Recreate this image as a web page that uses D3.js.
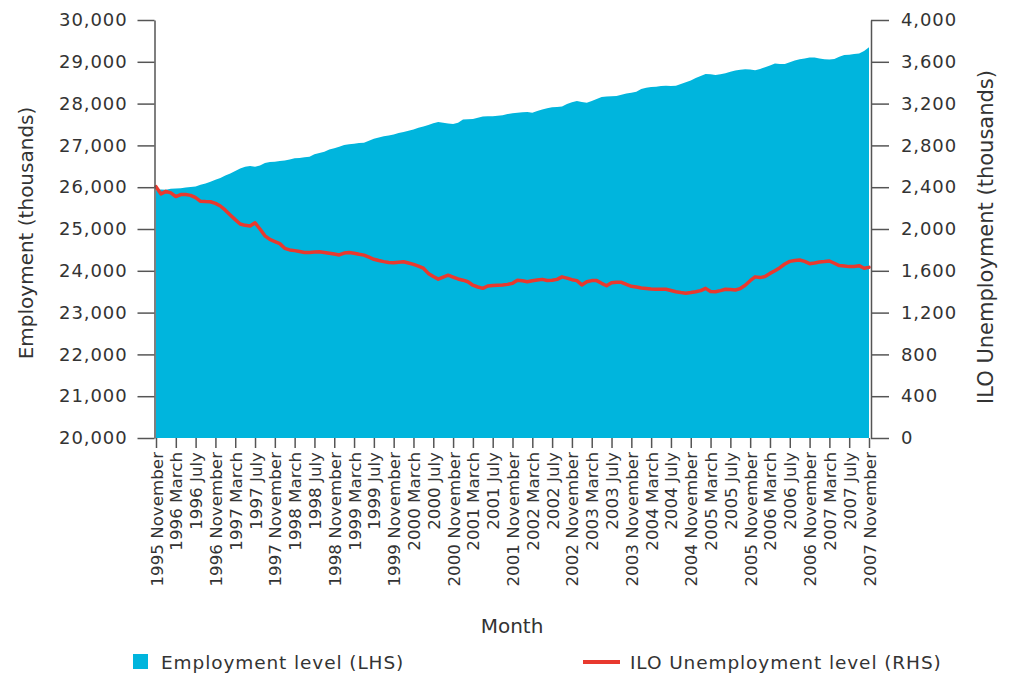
<!DOCTYPE html>
<html>
<head>
<meta charset="utf-8">
<script src="https://cdn.jsdelivr.net/npm/d3@7"></script>
<style>
  html, body { margin: 0; padding: 0; background: #fff; }
  svg { display: block; }
  text { font-family: "DejaVu Sans", sans-serif; fill: #333; }
</style>
</head>
<body>
<svg id="chart" width="1011" height="675"></svg>
<script>
// ---------- DATA ----------
const monthNames = ["January","February","March","April","May","June","July","August","September","October","November","December"];
const startYear = 1995;
const startMonthIndex = 10; // November
const nMonths = 145;
const categories = d3.range(nMonths).map(i => {
  const k = startMonthIndex + i;
  return (startYear + Math.floor(k / 12)) + " " + monthNames[k % 12];
});

// Employment level (LHS), thousands
const employment = [
  25930,25945,25940,25960,25970,25975,25990,26005,26015,26060,
  26090,26130,26180,26220,26280,26330,26390,26450,26490,26510,
  26490,26520,26580,26600,26610,26625,26640,26660,26690,26700,
  26715,26730,26790,26820,26850,26900,26930,26970,27010,27030,
  27040,27055,27065,27110,27160,27190,27220,27235,27260,27295,
  27320,27350,27380,27420,27450,27490,27530,27560,27540,27525,
  27510,27540,27620,27625,27630,27660,27690,27700,27700,27710,
  27720,27750,27770,27780,27795,27800,27780,27820,27860,27890,
  27910,27920,27930,27990,28030,28060,28040,28020,28060,28110,
  28160,28170,28175,28180,28210,28240,28260,28285,28350,28380,
  28400,28405,28420,28425,28420,28430,28470,28510,28550,28610,
  28660,28710,28700,28685,28700,28725,28760,28790,28810,28820,
  28815,28800,28830,28870,28910,28960,28950,28945,28990,29030,
  29060,29080,29100,29105,29080,29060,29055,29065,29120,29160,
  29170,29185,29200,29260,29350
];

// ILO Unemployment level (RHS), thousands
const unemployment = [
  2405,2335,2360,2345,2310,2330,2330,2322,2300,2265,
  2262,2261,2245,2220,2180,2134,2090,2048,2035,2029,
  2060,2000,1935,1900,1880,1860,1815,1800,1793,1785,
  1776,1775,1780,1783,1775,1767,1760,1752,1770,1775,
  1768,1758,1750,1730,1710,1698,1688,1680,1678,1682,
  1687,1675,1662,1645,1625,1575,1545,1520,1540,1558,
  1540,1522,1510,1495,1462,1445,1432,1455,1460,1462,
  1464,1470,1480,1510,1505,1496,1505,1512,1518,1508,
  1510,1518,1542,1530,1515,1506,1465,1495,1506,1506,
  1480,1457,1485,1490,1490,1470,1452,1445,1435,1430,
  1425,1423,1423,1423,1412,1400,1392,1386,1392,1400,
  1410,1432,1402,1400,1410,1423,1420,1416,1430,1462,
  1505,1542,1535,1545,1575,1600,1630,1665,1690,1698,
  1703,1690,1668,1675,1684,1688,1694,1672,1650,1645,
  1640,1642,1649,1625,1633
];

const leftTicks = [20000,21000,22000,23000,24000,25000,26000,27000,28000,29000,30000];
const rightTicks = [0,400,800,1200,1600,2000,2400,2800,3200,3600,4000];
const xTickLabels = categories.filter((c, i) => i % 4 === 0);

const leftTitle = "Employment (thousands)";
const rightTitle = "ILO Unemployment (thousands)";
const xTitle = "Month";
const legendLabels = ["Employment level (LHS)", "ILO Unemployment level (RHS)"];

// ---------- CHART ----------
const svg = d3.select("#chart");
const areaColor = "#00b5dd";
const lineColor = "#e8392e";
const axisColor = "#555";

const x = d3.scalePoint().domain(categories).range([156, 869]);
const yL = d3.scaleLinear().domain([20000, 30000]).range([438, 20]);
const yR = d3.scaleLinear().domain([0, 4000]).range([438, 20]);

// area
const area = d3.area()
  .x((d, i) => x(categories[i]))
  .y0(yL(20000))
  .y1(d => yL(d));
svg.append("path").datum(employment)
  .attr("d", area)
  .attr("fill", areaColor);

// line
const line = d3.line()
  .x((d, i) => x(categories[i]))
  .y(d => yR(d));
svg.append("path").datum(unemployment)
  .attr("d", line)
  .attr("fill", "none")
  .attr("stroke", lineColor)
  .attr("stroke-width", 3.5)
  .attr("stroke-linejoin", "round")
  .attr("stroke-linecap", "round");

function styleAxis(g) {
  g.select(".domain").attr("stroke", axisColor).attr("stroke-width", 1.5);
  g.selectAll(".tick line").attr("stroke", axisColor).attr("stroke-width", 1.5);
  g.selectAll(".tick text").attr("fill", "#333");
}

// left axis
const gL = svg.append("g").attr("transform", "translate(154.5,0)")
  .call(d3.axisLeft(yL).tickValues(leftTicks).tickFormat(d3.format(",")).tickSize(17).tickSizeOuter(0).tickPadding(10));
styleAxis(gL);
gL.selectAll(".tick text").attr("font-size", 18).attr("letter-spacing", "0.9px").attr("font-family", "DejaVu Sans");

// right axis
const gR = svg.append("g").attr("transform", "translate(871,0)")
  .call(d3.axisRight(yR).tickValues(rightTicks).tickFormat(d3.format(",")).tickSize(18).tickSizeOuter(0).tickPadding(12));
styleAxis(gR);
gR.selectAll(".tick text").attr("font-size", 18).attr("letter-spacing", "0.9px").attr("font-family", "DejaVu Sans");

// x axis
const gX = svg.append("g").attr("transform", "translate(0,438)")
  .call(d3.axisBottom(x).tickValues(xTickLabels).tickSize(10).tickSizeOuter(0));
gX.select(".domain").remove();
gX.selectAll(".tick line").attr("stroke", axisColor).attr("stroke-width", 1.5);
gX.selectAll(".tick text")
  .attr("font-size", 16.7)
  .attr("font-family", "DejaVu Sans")
  .attr("fill", "#333")
  .attr("text-anchor", "end")
  .attr("transform", "rotate(-90)")
  .attr("x", -14)
  .attr("y", 0)
  .attr("dy", "0.36em");

// axis titles
svg.append("text")
  .attr("transform", "translate(33,233) rotate(-90)")
  .attr("text-anchor", "middle")
  .attr("font-size", 20)
  .text(leftTitle);

svg.append("text")
  .attr("transform", "translate(993,237) rotate(-90)")
  .attr("text-anchor", "middle")
  .attr("font-size", 21)
  .text(rightTitle);

svg.append("text")
  .attr("x", 512).attr("y", 633)
  .attr("text-anchor", "middle")
  .attr("font-size", 20)
  .text(xTitle);

// legend
svg.append("rect")
  .attr("x", 133).attr("y", 654).attr("width", 15).attr("height", 15)
  .attr("fill", areaColor);
svg.append("text")
  .attr("x", 161).attr("y", 669)
  .attr("font-size", 18.5).attr("letter-spacing", "0.9px")
  .text(legendLabels[0]);

svg.append("line")
  .attr("x1", 583).attr("x2", 620).attr("y1", 662).attr("y2", 662)
  .attr("stroke", lineColor).attr("stroke-width", 4);
svg.append("text")
  .attr("x", 630).attr("y", 669)
  .attr("font-size", 18.5).attr("letter-spacing", "0.9px")
  .text(legendLabels[1]);
</script>
</body>
</html>
